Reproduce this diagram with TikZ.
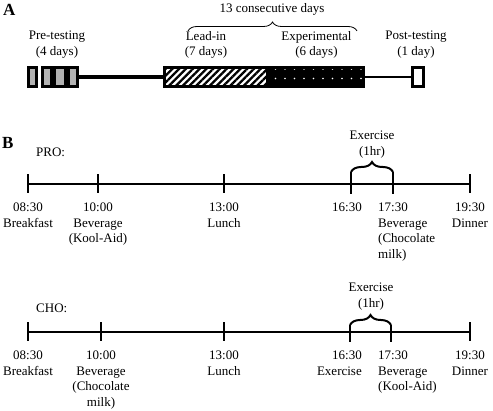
\documentclass[tikz,border=0pt]{standalone}
\usepackage{fontspec}
\setmainfont{Liberation Serif}
\usetikzlibrary{patterns, patterns.meta, decorations.pathreplacing, positioning}
\tikzstyle{stageBox} = [rectangle, draw, line width=2.8pt, inner sep=0pt, minimum height=19.5pt]
\tikzstyle{testBox} = [stageBox, line width=3pt, fill=gray!60]
\tikzstyle{leadBox} = [stageBox, pattern={Lines[angle=45, distance=4.8pt, line width=2.3pt]}]
\tikzstyle{expBox} = [stageBox, preaction={fill=black}, pattern={Dots[distance=9.5pt, radius=0.8pt]}, pattern color=white]
\tikzstyle{stageText} = [align=center, inner sep=0pt, anchor=north]
\tikzstyle{timeText} = [align=center, inner sep=0pt, anchor=north]
\tikzstyle{panelText} = [inner sep=0pt, anchor=base west, font=\fontsize{17}{17}\selectfont\bfseries]
\tikzstyle{timeLine} = [line width=2.3pt]
\tikzstyle{myBrace} = [decorate, decoration={brace, amplitude=10pt}, line width=2pt]

\begin{document}
\begin{tikzpicture}[x=1pt, y=-1pt, font=\fontsize{13}{15.5}\selectfont]
	\useasboundingbox (0,0) rectangle (493,411);

	% A
	\node [panelText](labA) at (3,16) {A};
	\node [stageText](days) at (272,3) {13 consecutive days};
	\coordinate (bl) at (188,31);
	\coordinate (br) at (357,31);
	\draw [decorate, decoration={brace, amplitude=9pt}, line width=0.8pt] (bl) -- (br);

	\node [testBox, minimum width=8.5pt](pre1) at (32.5,77) {};
	\node [testBox, minimum width=9.5pt](pre2) at (47,77) {};
	\node [testBox, minimum width=11pt](pre3) at (60,77) {};
	\node [testBox, minimum width=9.5pt](pre4) at (73,77) {};
	\node [leadBox, minimum width=102.75pt](lead) at (215.6,77) {};
	\node [expBox, minimum width=96.75pt](exper) at (315.4,77) {};
	\node [stageBox, fill=white, minimum width=11.5pt](post) at (418,77) {};
	\draw [line width=2.5pt] (pre2.east) -- (pre3.west);
	\draw [line width=3.5pt] (pre4.east) -- (lead.west);
	\draw [line width=2.3pt] (exper.east) -- (post.west);

	\node [stageText](preT) at (57,31) {Pre-testing\\(4 days)};
	\node [stageText](leadT) at (206,31) {Lead-in\\(7 days)};
	\node [stageText](expT) at (316.5,31) {Experimental\\(6 days)};
	\node [stageText](postT) at (416,31) {Post-testing\\(1 day)};

	% B
	\node [panelText](labB) at (2,149) {B};
	\node [inner sep=0pt, anchor=base west](pro) at (36,157) {PRO:};
	\coordinate (a1) at (28,184);
	\coordinate (a2) at (98,184);
	\coordinate (a3) at (224,184);
	\coordinate (a4) at (351,184);
	\coordinate (a5) at (393,184);
	\coordinate (a6) at (470,184);
	\draw [timeLine] (a1) -- (a6);
	\foreach \t in {a1,a2,a3,a6}
		\draw [timeLine] (\t) ++(0,-9.5) -- ++(0,19);
	\draw [timeLine] (a4) ++(0,10) -- ++(0,-22) coordinate (a4top);
	\draw [timeLine] (a5) ++(0,10) -- ++(0,-22) coordinate (a5top);
	\draw [myBrace] (a4top) -- (a5top);
	\node [align=center, inner sep=0pt, anchor=south](exA) at (372,158) {Exercise\\(1hr)};

	\node [timeText](tA1) at (28,203) {08:30\\Breakfast};
	\node [timeText](tA2) at (98,203) {10:00\\Beverage\\(Kool-Aid)};
	\node [timeText](tA3) at (224,203) {13:00\\Lunch};
	\node [timeText, anchor=north east, align=right](tA4) at (362,203) {16:30};
	\node [timeText, anchor=north west, align=left](tA5) at (378,203) {17:30\\Beverage\\(Chocolate\\milk)};
	\node [timeText](tA6) at (470,203) {19:30\\Dinner};

	\node [inner sep=0pt, anchor=base west](cho) at (36,313) {CHO:};
	\coordinate (c1) at (28,332);
	\coordinate (c2) at (101,332);
	\coordinate (c3) at (224,332);
	\coordinate (c4) at (350,332);
	\coordinate (c5) at (391,332);
	\coordinate (c6) at (470,332);
	\draw [timeLine] (c1) -- (c6);
	\foreach \t in {c1,c2,c3,c6}
		\draw [timeLine] (\t) ++(0,-9.5) -- ++(0,19);
	\draw [timeLine] (c4) ++(0,10) -- ++(0,-17) coordinate (c4top);
	\draw [timeLine] (c5) ++(0,10) -- ++(0,-17) coordinate (c5top);
	\draw [myBrace] (c4top) -- (c5top);
	\node [align=center, inner sep=0pt, anchor=south](exC) at (371,310) {Exercise\\(1hr)};

	\node [timeText](tC1) at (28,351) {08:30\\Breakfast};
	\node [timeText](tC2) at (101,351) {10:00\\Beverage\\(Chocolate\\milk)};
	\node [timeText](tC3) at (224,351) {13:00\\Lunch};
	\node [timeText, anchor=north east, align=right](tC4) at (362,351) {16:30\\Exercise};
	\node [timeText, anchor=north west, align=left](tC5) at (378,351) {17:30\\Beverage\\(Kool-Aid)};
	\node [timeText](tC6) at (470,351) {19:30\\Dinner};

\end{tikzpicture}
\end{document}
